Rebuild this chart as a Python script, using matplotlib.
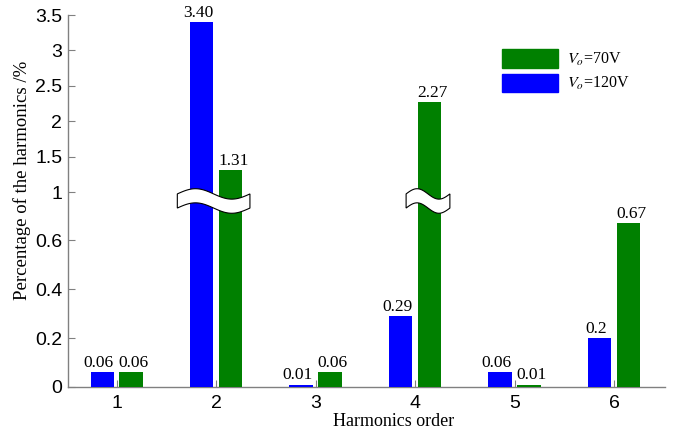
import matplotlib
matplotlib.use("Agg")
import matplotlib.pyplot as plt
from matplotlib.patches import Patch, Polygon
import numpy as np

# Harmonic content of the output voltage for two operating points
orders = [1, 2, 3, 4, 5, 6]
vo120 = [0.06, 3.40, 0.01, 0.29, 0.06, 0.2]
vo70 = [0.06, 1.31, 0.06, 2.27, 0.01, 0.67]
vo120_labels = ["0.06", "3.40", "0.01", "0.29", "0.06", "0.2"]
vo70_labels = ["0.06", "1.31", "0.06", "2.27", "0.01", "0.67"]

y_ticks = [0, 0.2, 0.4, 0.6, 1, 1.5, 2, 2.5, 3, 3.5]
y_tick_labels = ["0", "0.2", "0.4", "0.6", "1", "1.5", "2", "2.5", "3", "3.5"]

# Broken y axis: 0..0.79 stretched, 1..3.5 compressed, the gap squeezed to nothing
raw_pts = np.array([-10.0, 0.0, 0.79, 1.0, 100.0])
disp_pts = np.array([-10.0, 0.0, 0.79, 0.795, 0.795 + 99.0 * 0.29])


def forward(y):
    return np.interp(y, raw_pts, disp_pts)


def inverse(y):
    return np.interp(y, disp_pts, raw_pts)


plt.rcParams["font.family"] = "Liberation Serif"
plt.rcParams["mathtext.fontset"] = "stix"

BLUE = "#0000FF"
GREEN = "#008000"
GREY = "#808080"


def add_break(ax, x0, x1, yc=0.5, amp=0.014, half=0.019):
    """Draw a wavy white ribbon across the bars to mark the axis break."""
    t = np.linspace(0, 1, 60)
    xs = x0 + t * (x1 - x0)
    centre = yc + amp * np.sin(2 * np.pi * t)
    top = np.column_stack([xs, centre + half])
    bottom = np.column_stack([xs[::-1], (centre - half)[::-1]])
    ribbon = Polygon(np.vstack([top, bottom]), closed=True,
                     facecolor="white", edgecolor="black", linewidth=0.8,
                     transform=ax.get_xaxis_transform(), zorder=5, clip_on=False)
    ax.add_patch(ribbon)


fig = plt.figure(figsize=(6.79, 4.29), dpi=100)
ax = fig.add_axes([0.1, 0.098, 0.879, 0.867])
ax.set_yscale("function", functions=(forward, inverse))

x = np.array(orders, dtype=float)
width = 0.235
off = 0.145
bars_b = ax.bar(x - off, vo120, width, color=BLUE, zorder=3)
bars_g = ax.bar(x + off, vo70, width, color=GREEN, zorder=3)

# value labels, nudged apart a little so neighbouring numbers don't touch
for bars, labels, dx in ((bars_b, vo120_labels, -2.5), (bars_g, vo70_labels, 2)):
    for bar, txt in zip(bars, labels):
        ax.annotate(txt, (bar.get_x() + bar.get_width() / 2, bar.get_height()),
                    xytext=(dx, 1), textcoords="offset points",
                    ha="center", va="bottom", fontsize=12.5, zorder=6)

add_break(ax, 1.61, 2.34)
add_break(ax, 3.91, 4.35)

ax.set_xlim(0.51, 6.51)
ax.set_ylim(0, 3.5)
ax.set_xticks(orders)
ax.set_yticks(y_ticks)
ax.set_yticklabels(y_tick_labels)
ax.minorticks_off()

for side in ("top", "right"):
    ax.spines[side].set_visible(False)
for side in ("left", "bottom"):
    ax.spines[side].set_color(GREY)
    ax.spines[side].set_linewidth(1.0)

ax.tick_params(axis="both", direction="in", length=5, color=GREY,
               labelsize=14, labelfontfamily="Liberation Sans")
ax.tick_params(axis="x", pad=5.5)
ax.tick_params(axis="y", pad=4)

ax.set_xlabel("Harmonics order", fontsize=13, va="center")
ax.xaxis.set_label_coords(0.546, -0.092)
ax.set_ylabel("Percentage of the harmonics /%", fontsize=13.5, va="center", ha="center")
ax.yaxis.set_label_coords(-0.077, 0.556)

handles = [Patch(color=GREEN), Patch(color=BLUE)]
ax.legend(handles, [r"$V_o$=70V", r"$V_o$=120V"], loc="upper left",
          bbox_to_anchor=(0.703, 0.946), frameon=False, fontsize=11.5,
          handlelength=3.5, handleheight=1.4, labelspacing=0.35,
          handletextpad=0.6, borderpad=0.4)

fig.savefig("out.png", dpi=100)
plt.close(fig)
